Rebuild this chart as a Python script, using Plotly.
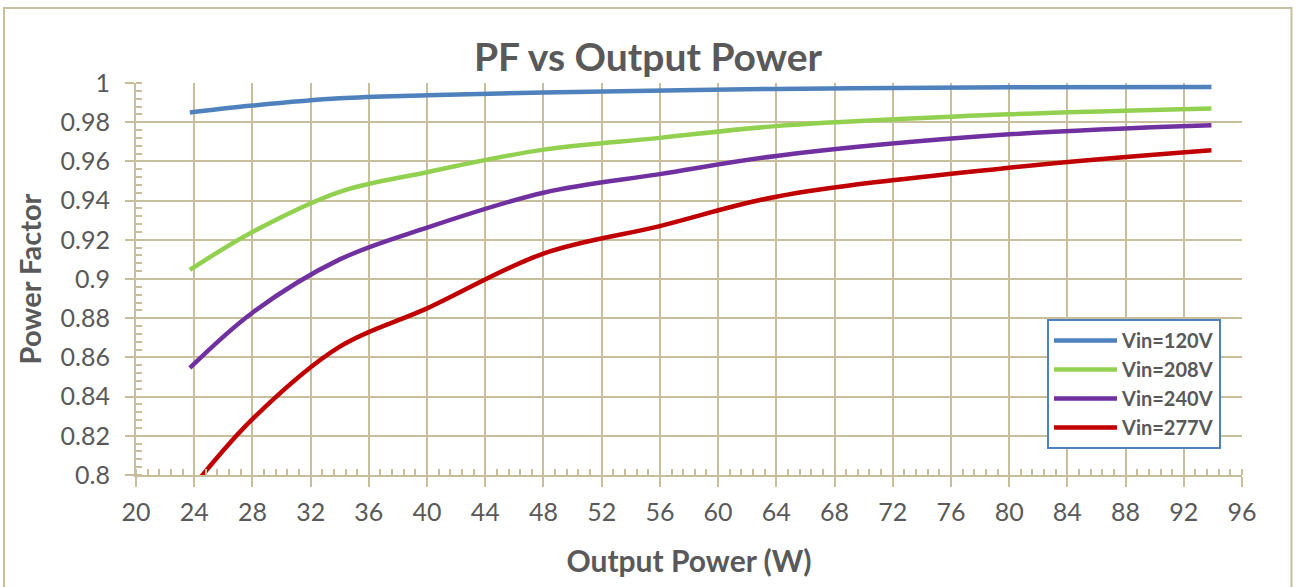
import plotly.graph_objects as go

# ---- data ----
x_120 = [23.7, 28, 34, 40, 48, 64, 80, 93.9]
pf_120 = [0.985, 0.9885, 0.9922, 0.9937, 0.9952, 0.997, 0.9978, 0.998]

x_208 = [23.7, 28, 34, 40, 48, 56, 64, 80, 93.9]
pf_208 = [0.9046, 0.924, 0.9445, 0.9545, 0.966, 0.972, 0.978, 0.984, 0.987]

x_240 = [23.7, 28, 34, 40, 48, 56, 64, 80, 93.9]
pf_240 = [0.8546, 0.8828, 0.910, 0.9262, 0.944, 0.9535, 0.9628, 0.9738, 0.9785]

x_277 = [23.7, 28, 34, 40, 48, 56, 64, 80, 93.9]
pf_277 = [0.792, 0.8285, 0.8655, 0.885, 0.913, 0.927, 0.942, 0.9568, 0.9657]

series_names = ["Vin=120V", "Vin=208V", "Vin=240V", "Vin=277V"]
series_colors = ["#4f81bd", "#92d050", "#7030a0", "#c00000"]

x_ticks = list(range(20, 97, 4))
y_ticks = [0.8, 0.82, 0.84, 0.86, 0.88, 0.9, 0.92, 0.94, 0.96, 0.98, 1.0]
y_tick_labels = ["0.8", "0.82", "0.84", "0.86", "0.88", "0.9", "0.92", "0.94", "0.96", "0.98", "1"]

GRID = "#c8be9c"
TXT = "#595959"
FONT = "Lato"

fig = go.Figure()
for i, (xs, ys) in enumerate([(x_120, pf_120), (x_208, pf_208), (x_240, pf_240), (x_277, pf_277)]):
    fig.add_trace(go.Scatter(
        x=xs, y=ys, mode="lines", name=series_names[i],
        line=dict(color=series_colors[i], width=4.5, shape="spline", smoothing=1.0),
        legendgroup=f"g{i}",
    ))

W, H = 1296, 587
L, R, T, B = 136, 54, 83, 112
pw = W - L - R
ph = H - T - B

def px_x(px):
    return (px - L) / pw

def px_y(py):
    return (H - B - py) / ph

fig.update_layout(
    width=W, height=H,
    margin=dict(l=L, r=R, t=T, b=B, autoexpand=False),
    paper_bgcolor="white", plot_bgcolor="white",
    font=dict(family=FONT, color=TXT),
    title=dict(text="<b>PF vs Output Power</b>", x=0.5, xref="container", xanchor="center",
               y=1 - 57 / H, yref="container", yanchor="middle",
               font=dict(family=FONT, size=39, color=TXT)),
    showlegend=True,
    legend=dict(x=px_x(1047), y=px_y(319), xanchor="left", yanchor="top",
                bgcolor="white", bordercolor="#4f81bd", borderwidth=2,
                font=dict(family=FONT, size=20, color=TXT, weight="bold"),
                tracegroupgap=0, itemwidth=63),
    xaxis=dict(range=[20, 96], tickmode="array", tickvals=x_ticks,
               showgrid=True, gridcolor=GRID, gridwidth=2,
               showline=True, linecolor=GRID, linewidth=2,
               ticks="outside", ticklen=10, tickwidth=2, tickcolor=GRID,
               tickfont=dict(family=FONT, size=25, color=TXT), ticklabelstandoff=4,
               minor=dict(dtick=0.8, tick0=20, ticks="inside", ticklen=6, tickwidth=2,
                          tickcolor=GRID, showgrid=False),
               title=dict(text="<b>Output Power (W)</b>", font=dict(family=FONT, size=30, color=TXT),
                          standoff=26),
               zeroline=False),
    yaxis=dict(range=[0.8, 1.0], tickmode="array", tickvals=y_ticks, ticktext=y_tick_labels,
               showgrid=True, gridcolor=GRID, gridwidth=2,
               showline=True, linecolor=GRID, linewidth=2,
               ticks="outside", ticklen=9, tickwidth=2, tickcolor=GRID,
               tickfont=dict(family=FONT, size=25, color=TXT), ticklabelstandoff=10,
               minor=dict(dtick=0.004, tick0=0.8, ticks="inside", ticklen=6, tickwidth=2,
                          tickcolor=GRID, showgrid=False),
               title=dict(text="<b>Power Factor</b>", font=dict(family=FONT, size=29, color=TXT),
                          standoff=10),
               zeroline=False),
)

# outer chart border
fig.add_shape(type="rect", xref="paper", yref="paper",
              x0=px_x(4), x1=px_x(1291.5), y0=px_y(600), y1=px_y(8),
              line=dict(color=GRID, width=2), fillcolor="rgba(0,0,0,0)", layer="below")

fig.write_html("out.html", config={"displayModeBar": False},
               post_script="document.body.style.margin='0px';")
